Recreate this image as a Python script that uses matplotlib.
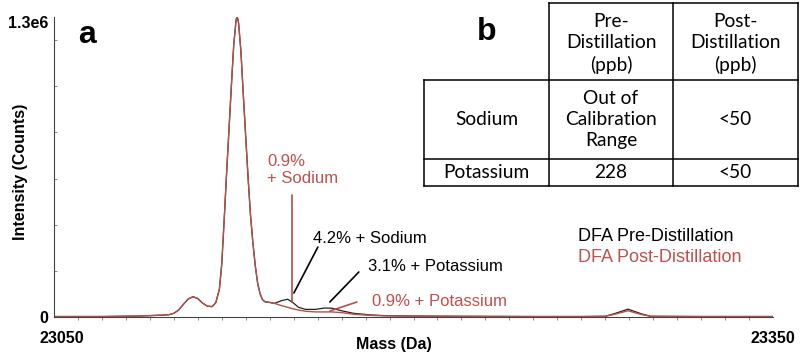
import matplotlib
matplotlib.use("Agg")
import matplotlib.pyplot as plt
import matplotlib.transforms as mtransforms
from matplotlib.ticker import MultipleLocator, FixedLocator

# spectrum (mass in Da, intensity in counts)
mass = [23050, 23070, 23085, 23095, 23098, 23100, 23102, 23104, 23106, 23108,
        23110, 23112, 23114, 23116, 23117.5, 23119, 23120, 23121, 23122, 23123,
        23124, 23125, 23126, 23126.5, 23127, 23128, 23129, 23130, 23131, 23132,
        23133, 23134, 23135, 23136, 23137, 23138, 23139.5, 23142, 23145, 23147.5,
        23150, 23152, 23155, 23159, 23163, 23166, 23170, 23175, 23182, 23188,
        23200, 23220, 23250, 23270, 23280, 23284, 23289.5, 23295, 23299, 23320,
        23350]
pre = [2e3, 2e3, 4e3, 8e3, 10e3, 16e3, 30e3, 55e3, 78e3, 88e3,
       80e3, 60e3, 47e3, 45e3, 62e3, 120e3, 230e3, 420e3, 620e3, 810e3,
       1000e3, 1180e3, 1290e3, 1300e3, 1275e3, 1150e3, 960e3, 780e3, 600e3, 440e3,
       320e3, 220e3, 145e3, 100e3, 75e3, 66e3, 64e3, 59e3, 71e3, 77e3,
       60e3, 42e3, 33e3, 33e3, 39e3, 38e3, 27e3, 16e3, 9e3, 6e3,
       4e3, 3e3, 2e3, 2e3, 3e3, 15e3, 34e3, 14e3, 3e3, 2e3,
       2e3]
post = [2e3, 2e3, 4e3, 8e3, 10e3, 16e3, 30e3, 55e3, 78e3, 88e3,
        80e3, 60e3, 47e3, 45e3, 62e3, 120e3, 230e3, 420e3, 620e3, 810e3,
        1000e3, 1180e3, 1290e3, 1300e3, 1275e3, 1150e3, 960e3, 780e3, 600e3, 440e3,
        320e3, 220e3, 145e3, 100e3, 75e3, 66e3, 64e3, 59e3, 49e3, 42e3,
        35e3, 30e3, 25e3, 22e3, 22e3, 22e3, 19e3, 12e3, 7e3, 5e3,
        4e3, 3e3, 2e3, 2e3, 3e3, 12e3, 27e3, 11e3, 3e3, 2e3,
        2e3]

# panel b table
col_headers = ["Pre-\nDistillation\n(ppb)", "Post-\nDistillation\n(ppb)"]
row_labels = ["Sodium", "Potassium"]
cell_values = [["Out of\nCalibration\nRange", "<50"],
               ["228", "<50"]]

RED = "#c0504d"
RED_LINE = "#b5504b"
BLACK = "#222222"
FONT = "Liberation Sans"

fig = plt.figure(figsize=(8, 3.57), dpi=100)
ax = fig.add_axes([54/800, 40/357, 719/800, 300/357])

ax.plot(mass, post, color=RED_LINE, lw=1.0, zorder=2)
ax.plot(mass, pre, color=BLACK, lw=0.9, zorder=1)

ax.set_xlim(23050, 23350)
ax.set_ylim(0, 1.3e6)
for s in ["top", "right"]:
    ax.spines[s].set_visible(False)
ax.spines["left"].set_color("#444444")
ax.spines["bottom"].set_color("#444444")

ax.xaxis.set_major_locator(FixedLocator([23050, 23350]))
ax.xaxis.set_minor_locator(MultipleLocator(10))
ax.yaxis.set_major_locator(FixedLocator([0, 1.3e6]))
ax.yaxis.set_minor_locator(MultipleLocator(2e5))
ax.set_xticklabels(["23050", "23350"])
ax.set_yticklabels(["0", "1.3e6"])
ax.tick_params(axis="x", which="major", length=0, pad=10)
ax.tick_params(axis="x", which="minor", length=2, direction="out", color="#777777")
ax.tick_params(axis="y", which="major", length=0, pad=4)
ax.tick_params(axis="y", which="minor", length=2, direction="in", color="#777777")
for lab in ax.get_xticklabels() + ax.get_yticklabels():
    lab.set_fontfamily(FONT)
    lab.set_fontweight("bold")
    lab.set_fontsize(11.5)
# nudge first x label right and top y label down, as in the original
xl = ax.get_xticklabels()[0]
xl.set_transform(xl.get_transform() + mtransforms.ScaledTranslation(8/100, 0, fig.dpi_scale_trans))
yl = ax.get_yticklabels()[1]
yl.set_transform(yl.get_transform() + mtransforms.ScaledTranslation(0, -5/100, fig.dpi_scale_trans))

ax.set_xlabel("Mass (Da)", fontfamily=FONT, fontweight="bold", fontsize=11.5)
ax.xaxis.set_label_coords((394 - 54) / 719, -0.068)
ax.set_ylabel("Intensity (Counts)", fontfamily=FONT, fontweight="bold", fontsize=11.5)
ax.yaxis.set_label_coords(-0.036, 0.483)

# annotations
txt = dict(fontfamily=FONT, fontsize=12, va="center", ha="left")
ax.annotate("", xy=(23149.3, 65e3), xytext=(23149.3, 529e3),
            arrowprops=dict(arrowstyle="-", color=RED_LINE, lw=1.2, shrinkA=0, shrinkB=0))
ax.text(23138.9, 637e3, "0.9%\n+ Sodium", color=RED, linespacing=1.15, **txt)

ax.annotate("", xy=(23150.1, 104e3), xytext=(23160.1, 303e3),
            arrowprops=dict(arrowstyle="-", color="black", lw=1.2, shrinkA=0, shrinkB=0))
ax.text(23158.1, 342e3, "4.2% + Sodium", color="black", **txt)

ax.annotate("", xy=(23165.1, 65e3), xytext=(23177.2, 195e3),
            arrowprops=dict(arrowstyle="-", color="black", lw=1.2, shrinkA=0, shrinkB=0))
ax.text(23181.0, 217e3, "3.1% + Potassium", color="black", **txt)

ax.annotate("", xy=(23165.1, 26e3), xytext=(23176.4, 65e3),
            arrowprops=dict(arrowstyle="-", color=RED_LINE, lw=1.2, shrinkA=0, shrinkB=0))
ax.text(23182.7, 65e3, "0.9% + Potassium", color=RED, **txt)

leg = dict(fontfamily=FONT, fontsize=13, va="center", ha="left")
ax.text(23268.6, 347e3, "DFA Pre-Distillation", color="black", **leg)
ax.text(23268.6, 260e3, "DFA Post-Distillation", color=RED, **leg)

# overlay in pixel coordinates for panel letters and table
ov = fig.add_axes([0, 0, 1, 1], zorder=5)
ov.set_xlim(0, 800)
ov.set_ylim(357, 0)
ov.axis("off")
ov.patch.set_alpha(0)

ov.text(87, 35, "a", fontfamily=FONT, fontweight="bold", fontsize=23, ha="center", va="center")
ov.text(487, 32, "b", fontfamily=FONT, fontweight="bold", fontsize=23, ha="center", va="center")

col_x = [424, 549, 673, 798]
row_y = [3, 80, 159, 186]
lk = dict(color="black", lw=1.1)
ov.plot([col_x[1], col_x[3]], [row_y[0], row_y[0]], **lk)
for y in row_y[1:]:
    ov.plot([col_x[0], col_x[3]], [y, y], **lk)
ov.plot([col_x[0], col_x[0]], [row_y[1], row_y[3]], **lk)
for x in col_x[1:]:
    ov.plot([x, x], [row_y[0], row_y[3]], **lk)

tk = dict(fontfamily="Lato", fontsize=13.8, ha="center", va="center", linespacing=1.32)
for j, h in enumerate(col_headers):
    ov.text((col_x[j + 1] + col_x[j + 2]) / 2, (row_y[0] + row_y[1]) / 2 + 2, h, **tk)
for i, r in enumerate(row_labels):
    yc = (row_y[i + 1] + row_y[i + 2]) / 2
    ov.text((col_x[0] + col_x[1]) / 2, yc, r, **tk)
    for j, v in enumerate(cell_values[i]):
        ov.text((col_x[j + 1] + col_x[j + 2]) / 2, yc, v, **tk)

fig.savefig("out.png", dpi=100)
